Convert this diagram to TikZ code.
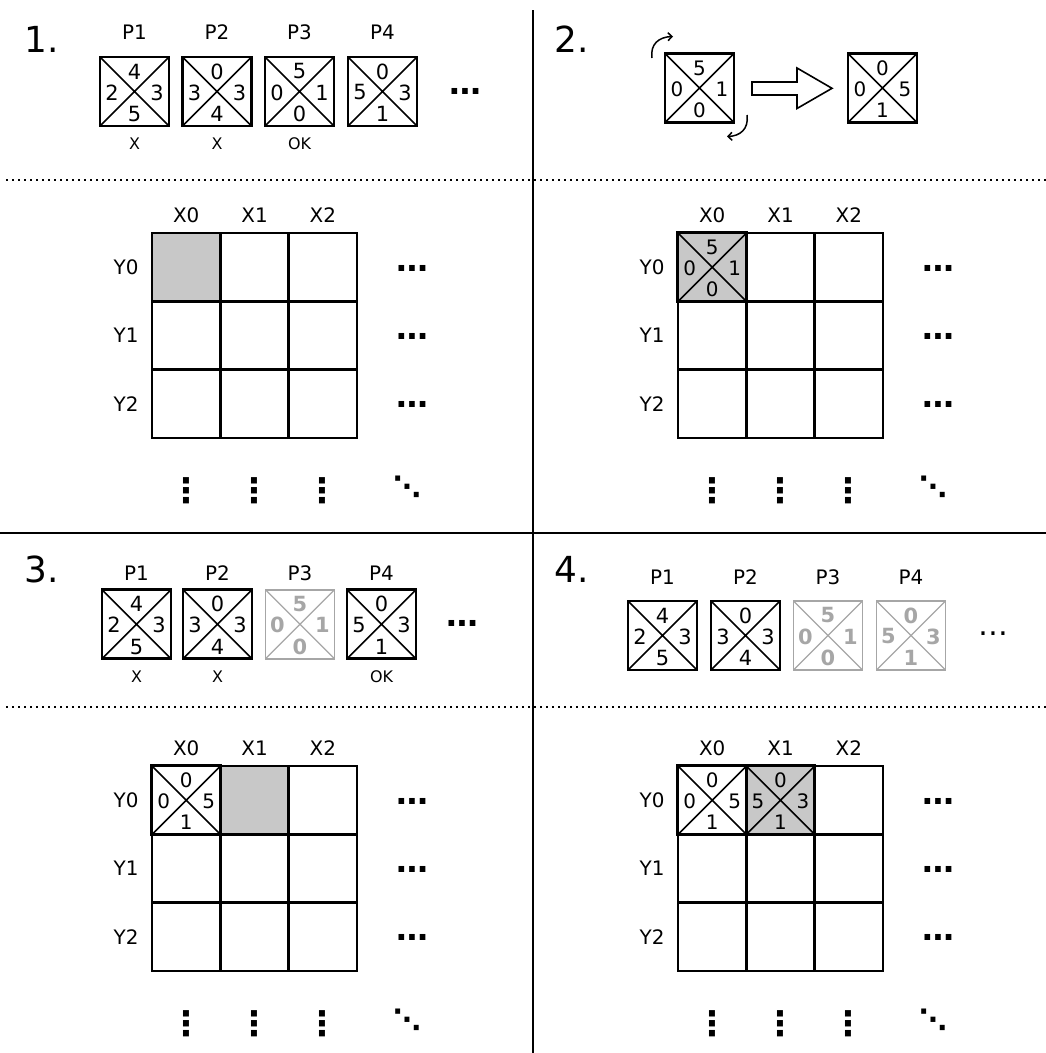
\documentclass[tikz,border=0pt]{standalone}
\usepackage{fontspec}
\setmainfont{DejaVu Sans}
\usetikzlibrary{arrows.meta}
\definecolor{cellgray}{HTML}{C8C8C8}
\definecolor{ghost}{HTML}{A6A6A6}

% name, x, y, top, left, right, bottom, mode prefix (empty, g or ghost)
\newcommand\mkpiece[8]{%
  \node[#8sq] (#1) at (#2,#3) {};
  \draw[#8dg] (#1.north west) -- (#1.south east) (#1.north east) -- (#1.south west);
  \node[#8dig] (#1-t) at ({#2},{#3-20}) {#4};
  \node[#8dig] (#1-l) at ({#2-22.5},{#3+1}) {#5};
  \node[#8dig] (#1-r) at ({#2+22.5},{#3+1}) {#6};
  \node[#8dig] (#1-b) at ({#2},{#3+22.5}) {#7};
}

% name, dx, dy, filled column
\newcommand\mkgrid[4]{%
  \fill[cellgray] ({152+#2+#4*68.33},{233+#3}) rectangle ++(68.33,68.33);
  \foreach \i in {0,1,2}{
    \foreach \j in {0,1,2}{
      \draw[cell] ({152+#2+\i*68.33},{233+#3+\j*68.33}) rectangle ++(68.33,68.33);
    }
    \node[lbl] (#1-x\i) at ({186.2+#2+\i*68.33},{215+#3}) {X\i};
    \node[lbl] (#1-y\i) at ({126+#2},{267.2+#3+\i*68.33}) {Y\i};
    \node[hdots] (#1-h\i) at ({412.5+#2},{268+#3+\i*68.33}) {…};
    \node[vdots] (#1-v\i) at ({186.2+#2+\i*68.33},{491+#3}) {⋮};
  }
  \node[ddots] (#1-d) at ({407+#2},{487+#3}) {⋱};
}

\begin{document}
\begin{tikzpicture}[x=1bp,y=-1bp,
  sq/.style={draw=black, line width=2.6bp, minimum size=69bp, inner sep=0pt, outer sep=0pt},
  dg/.style={draw=black, line width=1.6bp},
  dig/.style={inner sep=0pt, font=\fontsize{21}{21}\selectfont},
  gsq/.style={sq},
  gdg/.style={dg},
  gdig/.style={inner sep=0pt, font=\fontsize{20}{20}\selectfont},
  ghostsq/.style={sq, draw=ghost, line width=1.6bp},
  ghostdg/.style={draw=ghost, line width=1.3bp},
  ghostdig/.style={inner sep=0pt, text=ghost, font=\fontsize{21}{21}\selectfont\bfseries},
  cell/.style={draw=black, line width=2.5bp},
  lbl/.style={inner sep=0pt, font=\fontsize{20}{20}\selectfont},
  sm/.style={inner sep=0pt, font=\fontsize{16}{16}\selectfont},
  big/.style={inner sep=0pt, anchor=base west, font=\fontsize{36}{36}\selectfont},
  hdots/.style={inner sep=0pt, font=\fontsize{32}{32}\selectfont\bfseries},
  thindots/.style={inner sep=0pt, font=\fontsize{30}{30}\selectfont},
  vdots/.style={inner sep=0pt, font=\fontsize{34}{34}\selectfont\bfseries},
  ddots/.style={inner sep=0pt, font=\fontsize{28}{28}\selectfont\bfseries},
  sep/.style={draw=black, line width=2bp},
  sepdot/.style={draw=black, line width=1.8bp, dash pattern=on 1.8bp off 4.2bp},
  rot/.style={draw=black, line width=1.5bp, -{Straight Barb[length=4bp,width=8bp]}},
]
\useasboundingbox (0,0) rectangle (1046,1053);

% separators
\draw[sep] (533,10) -- (533,1053);
\draw[sep] (0,533) -- (1046,533);
\draw[sepdot] (6,180) -- (1046,180);
\draw[sepdot] (6,707) -- (1046,707);

% ---------- Panel 1 ----------
\node[big] (n1) at (24,52) {1.};
\foreach \n/\x in {1/134.5,2/217,3/299.5,4/382.5}
  \node[lbl] (a-p\n) at (\x,32) {P\n};
\mkpiece{a1}{134.5}{91.5}{4}{2}{3}{5}{}
\mkpiece{a2}{217}{91.5}{0}{3}{3}{4}{}
\mkpiece{a3}{299.5}{91.5}{5}{0}{1}{0}{}
\mkpiece{a4}{382.5}{91.5}{0}{5}{3}{1}{}
\node[sm] (a-s1) at (134.5,143.5) {X};
\node[sm] (a-s2) at (217,143.5) {X};
\node[sm] (a-s3) at (299.5,143.5) {OK};
\node[hdots] (a-more) at (465.5,91) {…};
\mkgrid{ga}{0}{0}{0}

% ---------- Panel 2 ----------
\node[big] (n2) at (554,52) {2.};
\mkpiece{b1}{699.5}{88}{5}{0}{1}{0}{g}
\mkpiece{b2}{882.5}{88}{0}{0}{5}{1}{g}
\draw[line width=1.6bp, line join=miter] (752,82) -- (797,82) -- (797,68) -- (832,88.3) -- (797,108.5) -- (797,95) -- (752,95) -- cycle;
\draw[rot] (652,58) .. controls (650,44) and (659,37) .. (673,36.5);
\draw[rot] (747,115) .. controls (749,129) and (740,136) .. (727,136.5);
\mkgrid{gb}{526}{0}{0}
\mkpiece{gb-c}{712.2}{267.2}{5}{0}{1}{0}{g}

% ---------- Panel 3 ----------
\node[big] (n3) at (24,582) {3.};
\foreach \n/\x in {1/136.5,2/217.5,3/300,4/381.5}
  \node[lbl] (c-p\n) at (\x,573) {P\n};
\mkpiece{c1}{136.5}{624.2}{4}{2}{3}{5}{}
\mkpiece{c2}{217.5}{624.2}{0}{3}{3}{4}{}
\mkpiece{c3}{300}{624.2}{5}{0}{1}{0}{ghost}
\mkpiece{c4}{381.5}{624.2}{0}{5}{3}{1}{}
\node[sm] (c-s1) at (136.5,677) {X};
\node[sm] (c-s2) at (217.5,677) {X};
\node[sm] (c-s4) at (381.5,677) {OK};
\node[hdots] (c-more) at (462.5,623.5) {…};
\mkgrid{gc}{0}{533}{1}
\mkpiece{gc-c}{186.2}{800.2}{0}{0}{5}{1}{g}

% ---------- Panel 4 ----------
\node[big] (n4) at (554,582) {4.};
\foreach \n/\x in {1/662.5,2/745.5,3/828,4/911}
  \node[lbl] (d-p\n) at (\x,577) {P\n};
\mkpiece{d1}{662.5}{635.5}{4}{2}{3}{5}{}
\mkpiece{d2}{745.5}{635.5}{0}{3}{3}{4}{}
\mkpiece{d3}{828}{635.5}{5}{0}{1}{0}{ghost}
\mkpiece{d4}{911}{635.5}{0}{5}{3}{1}{ghost}
\node[thindots] (d-more) at (993,634) {…};
\mkgrid{gd}{526}{533}{1}
\mkpiece{gd-c0}{712.2}{800.2}{0}{0}{5}{1}{g}
\mkpiece{gd-c1}{780.5}{800.2}{0}{5}{3}{1}{g}
\end{tikzpicture}
\end{document}
